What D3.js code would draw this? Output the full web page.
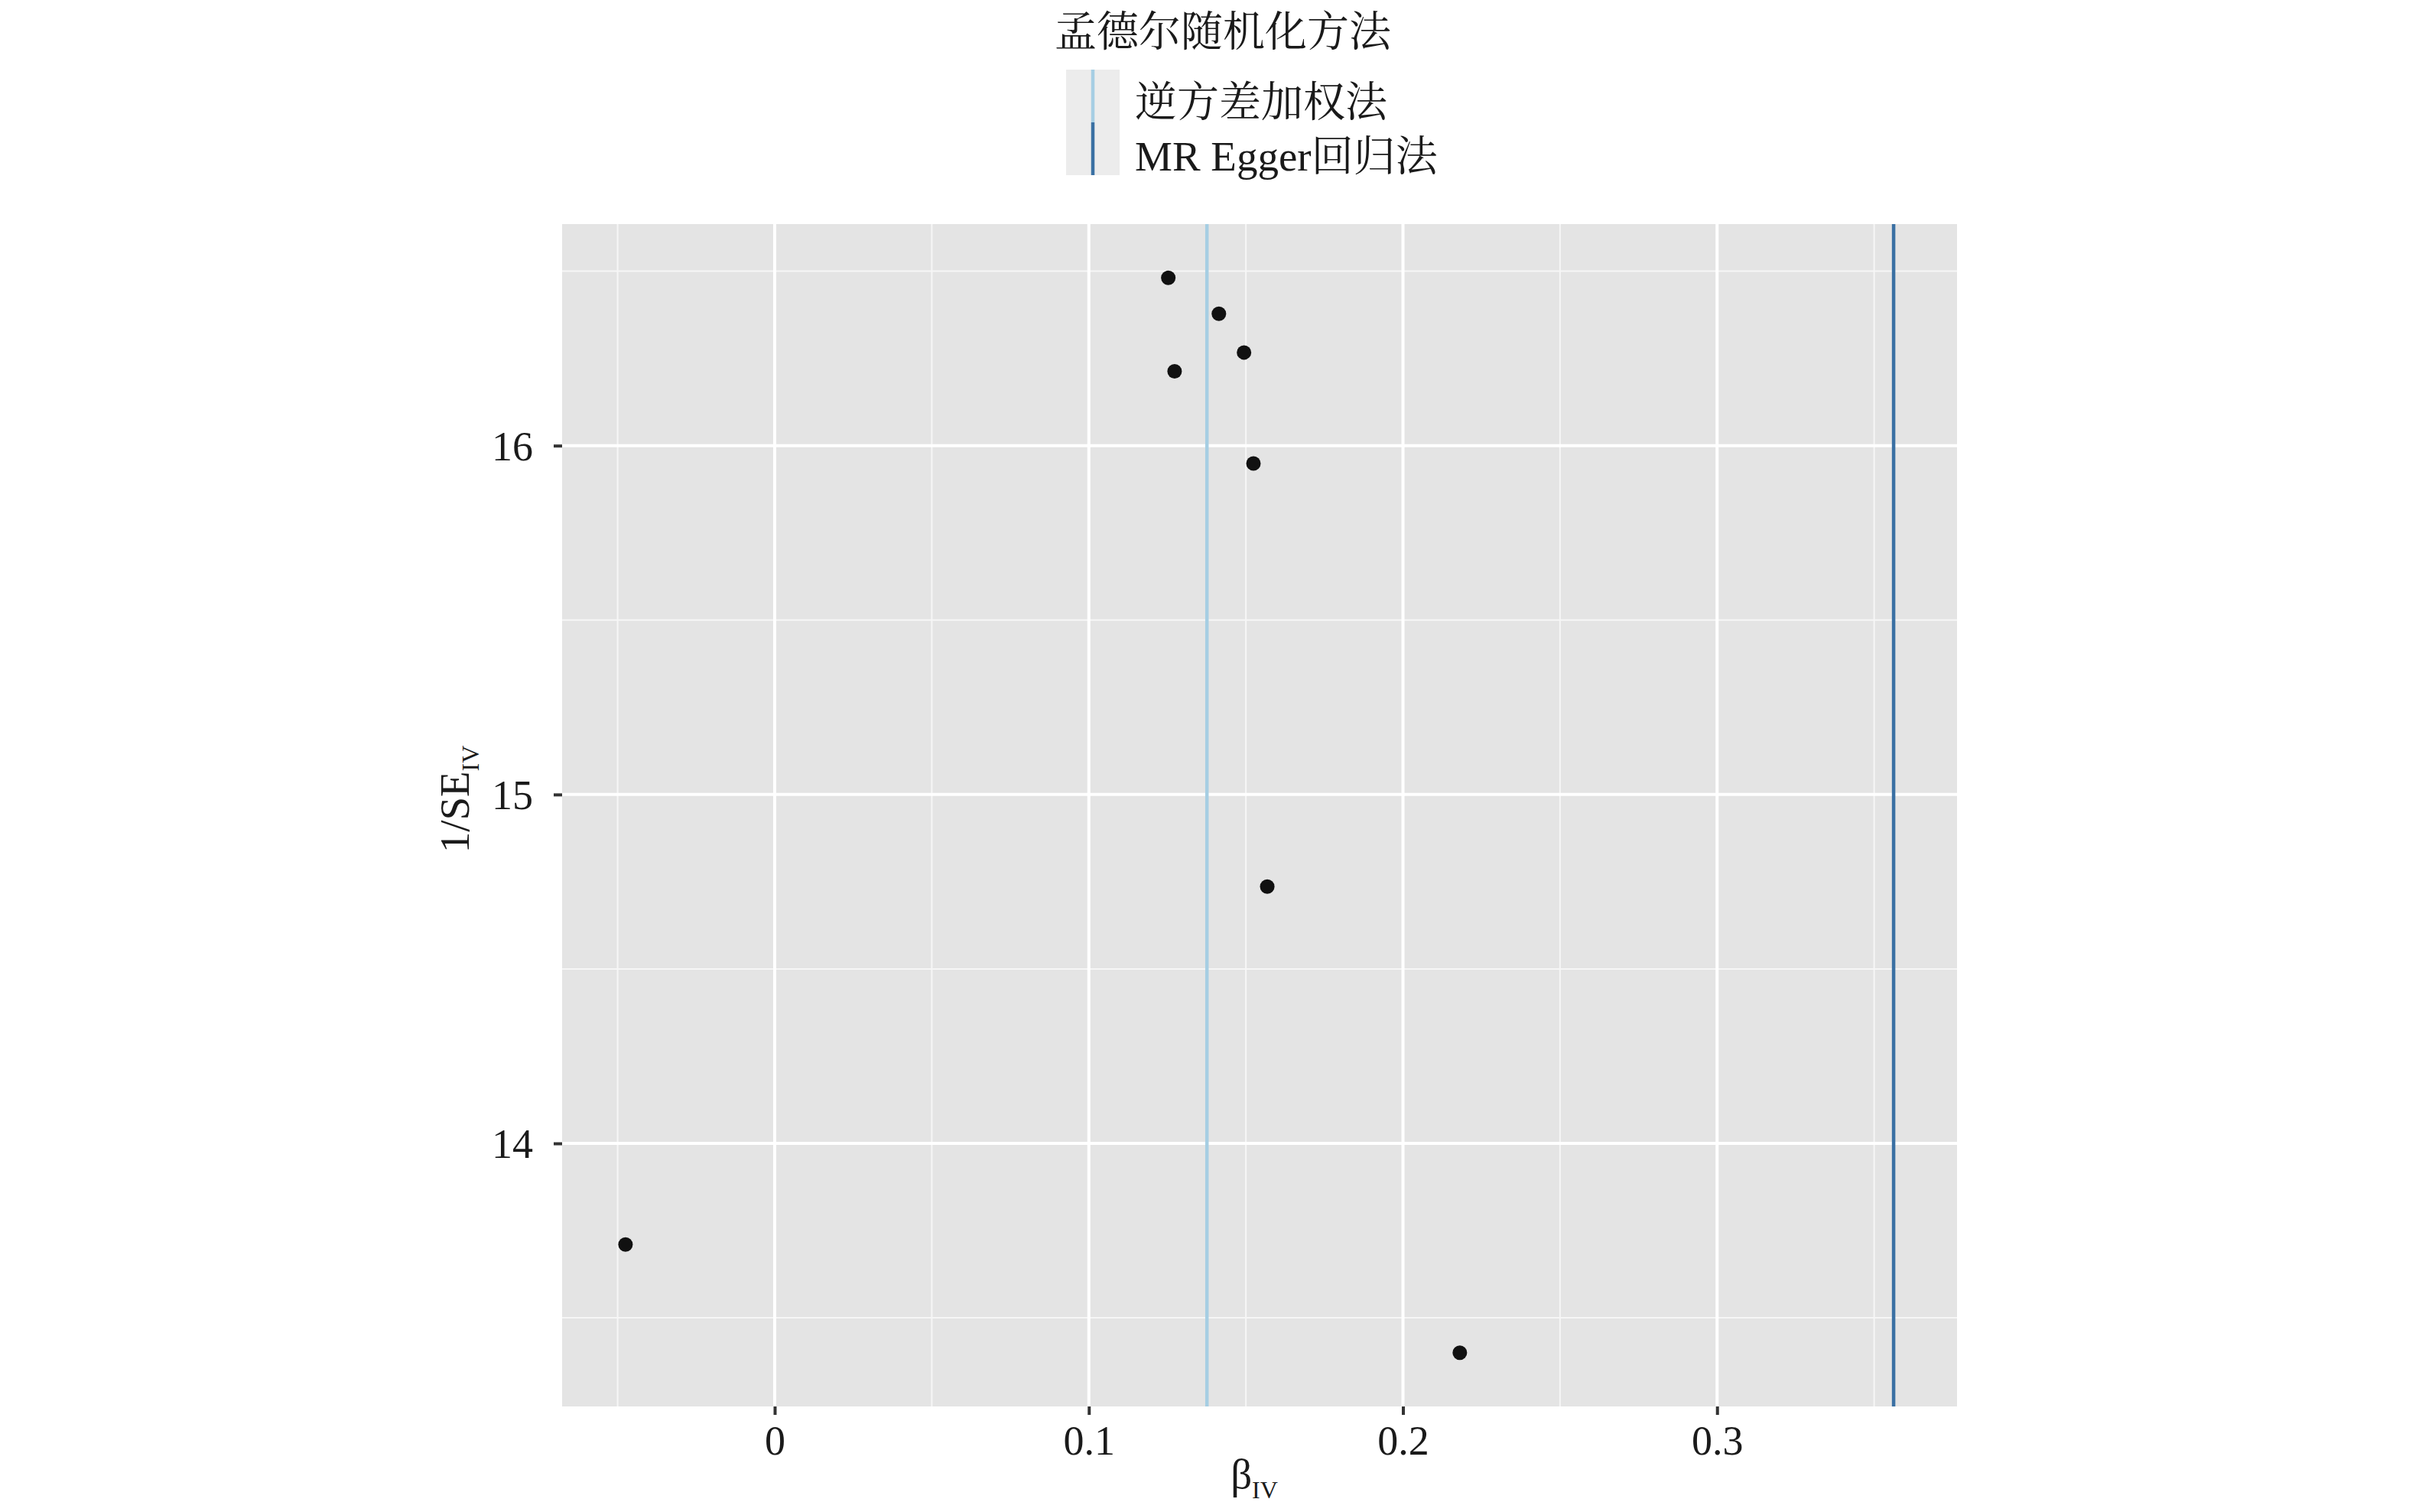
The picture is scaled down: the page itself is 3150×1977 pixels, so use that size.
<!DOCTYPE html>
<html>
<head>
<meta charset="utf-8">
<script src="https://cdn.jsdelivr.net/npm/d3@7"></script>
<style>
  html, body { margin: 0; padding: 0; background: #ffffff; }
  svg { display: block; }
  text { font-family: "Liberation Serif", "Noto Serif CJK SC", "Noto Sans CJK SC", serif; }
</style>
</head>
<body>
<script>
// ---- data ----
const betaIV = [-0.0475, 0.1253, 0.1414, 0.1494, 0.1273, 0.1524, 0.1568, 0.2181];
const invSE  = [13.71, 16.481, 16.378, 16.267, 16.213, 15.949, 14.736, 13.40];
const methodNames = ["逆方差加权法", "MR Egger回归法"];
const methodBeta  = [0.1376, 0.3562];
const methodColors = ["#a6cee3", "#3a70a3"];
const legendTitle = "孟德尔随机化方法";
const xTicks = [0, 0.1, 0.2, 0.3];
const xTickLabels = ["0", "0.1", "0.2", "0.3"];
const xMinor = [-0.05, 0.05, 0.15, 0.25, 0.35];
const yTicks = [14, 15, 16];
const yTickLabels = ["14", "15", "16"];
const yMinor = [13.5, 14.5, 15.5, 16.5];

// ---- layout ----
const W = 3150, H = 1977;
const panel = { left: 735, right: 2559, top: 293, bottom: 1839 };

const svg = d3.select("body").append("svg")
  .attr("width", W).attr("height", H)
  .attr("viewBox", `0 0 ${W} ${H}`);

function expand(vals) {
  const lo = d3.min(vals), hi = d3.max(vals), pad = (hi - lo) * 0.05;
  return [lo - pad, hi + pad];
}
const x = d3.scaleLinear()
  .domain(expand(betaIV.concat(methodBeta)))
  .range([panel.left, panel.right]);
const y = d3.scaleLinear()
  .domain(expand(invSE))
  .range([panel.bottom, panel.top]);

// panel background
svg.append("rect")
  .attr("x", panel.left).attr("y", panel.top)
  .attr("width", panel.right - panel.left).attr("height", panel.bottom - panel.top)
  .attr("fill", "#e4e4e4");

const grid = svg.append("g");
// minor grid
grid.selectAll(".xminor").data(xMinor).enter().append("line")
  .attr("x1", d => x(d)).attr("x2", d => x(d))
  .attr("y1", panel.top).attr("y2", panel.bottom)
  .attr("stroke", "#f6f6f6").attr("stroke-width", 2);
grid.selectAll(".yminor").data(yMinor).enter().append("line")
  .attr("y1", d => y(d)).attr("y2", d => y(d))
  .attr("x1", panel.left).attr("x2", panel.right)
  .attr("stroke", "#f6f6f6").attr("stroke-width", 2);
// major grid
grid.selectAll(".xmajor").data(xTicks).enter().append("line")
  .attr("x1", d => x(d)).attr("x2", d => x(d))
  .attr("y1", panel.top).attr("y2", panel.bottom)
  .attr("stroke", "#ffffff").attr("stroke-width", 4);
grid.selectAll(".ymajor").data(yTicks).enter().append("line")
  .attr("y1", d => y(d)).attr("y2", d => y(d))
  .attr("x1", panel.left).attr("x2", panel.right)
  .attr("stroke", "#ffffff").attr("stroke-width", 4);

// method vertical lines
svg.append("g").selectAll("line").data(methodBeta).enter().append("line")
  .attr("x1", d => x(d)).attr("x2", d => x(d))
  .attr("y1", panel.top).attr("y2", panel.bottom)
  .attr("stroke", (d, i) => methodColors[i]).attr("stroke-width", 4.5);

// points
svg.append("g").selectAll("circle").data(betaIV).enter().append("circle")
  .attr("cx", d => x(d)).attr("cy", (d, i) => y(invSE[i]))
  .attr("r", 9.5).attr("fill", "#111111");

// axes
const xAxis = svg.append("g")
  .attr("transform", `translate(0,${panel.bottom})`)
  .call(d3.axisBottom(x).tickValues(xTicks).tickFormat((d, i) => xTickLabels[i]).tickSize(11).tickSizeOuter(0));
xAxis.select(".domain").remove();
xAxis.selectAll(".tick line").attr("stroke", "#333333").attr("stroke-width", 4);
xAxis.selectAll(".tick text")
  .attr("y", 63).attr("dy", null)
  .attr("font-size", 54).attr("fill", "#1a1a1a")
  .style("font-family", "'Liberation Serif', serif");

const yAxis = svg.append("g")
  .attr("transform", `translate(${panel.left},0)`)
  .call(d3.axisLeft(y).tickValues(yTicks).tickFormat((d, i) => yTickLabels[i]).tickSize(11).tickSizeOuter(0));
yAxis.select(".domain").remove();
yAxis.selectAll(".tick line").attr("stroke", "#333333").attr("stroke-width", 4);
yAxis.selectAll(".tick text")
  .attr("x", -38).attr("dy", "0.34em")
  .attr("font-size", 54).attr("fill", "#1a1a1a")
  .style("font-family", "'Liberation Serif', serif");

// x axis title: β_IV
const xt = svg.append("text")
  .attr("x", 1640).attr("y", 1946)
  .attr("text-anchor", "middle").attr("fill", "#1a1a1a");
xt.append("tspan").attr("font-size", 55).text("β");
xt.append("tspan").attr("font-size", 32).attr("dy", 13).text("IV");

// y axis title: 1/SE_IV
const yt = svg.append("text")
  .attr("transform", "translate(613,1045) rotate(-90)")
  .attr("text-anchor", "middle").attr("fill", "#1a1a1a");
yt.append("tspan").attr("font-size", 55).text("1/SE");
yt.append("tspan").attr("font-size", 32).attr("dy", 13).text("IV");

// legend
const legend = svg.append("g");
legend.append("text")
  .attr("x", 1379).attr("y", 60)
  .attr("font-size", 55).attr("fill", "#1a1a1a")
  .text(legendTitle);
const keyX = 1394, keyW = 70, keyTop = 91, keyH = 69;
const labelBaselines = [152, 223];
const items = legend.selectAll(".item").data(methodNames).enter().append("g");
items.append("rect")
  .attr("x", keyX).attr("y", (d, i) => keyTop + i * keyH)
  .attr("width", keyW).attr("height", keyH)
  .attr("fill", "#ececec");
items.append("line")
  .attr("x1", keyX + keyW / 2).attr("x2", keyX + keyW / 2)
  .attr("y1", (d, i) => keyTop + i * keyH).attr("y2", (d, i) => keyTop + (i + 1) * keyH)
  .attr("stroke", (d, i) => methodColors[i]).attr("stroke-width", 4.5);
items.append("text")
  .attr("x", 1484).attr("y", (d, i) => labelBaselines[i])
  .attr("font-size", 55).attr("fill", "#1a1a1a")
  .text(d => d);
</script>
</body>
</html>
